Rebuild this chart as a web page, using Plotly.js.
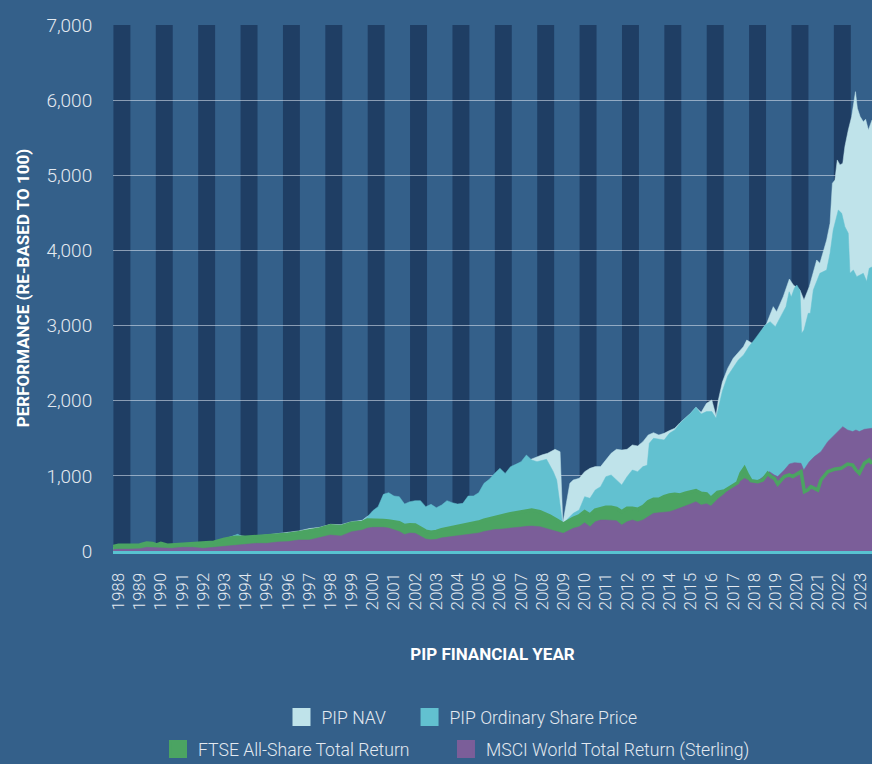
<!DOCTYPE html>
<html>
<head>
<meta charset="utf-8">
<script src="https://cdn.plot.ly/plotly-3.0.1.min.js"></script>
<style>
  html, body { margin: 0; padding: 0; background: #34608a; }
  #chart { width: 872px; height: 764px; }
</style>
</head>
<body>
<div id="chart"></div>
<script>
// ---- Tick labels (financial years) ----
const yearTicks = [1988,1989,1990,1991,1992,1993,1994,1995,1996,1997,1998,1999,2000,2001,2002,2003,2004,2005,2006,2007,2008,2009,2010,2011,2012,2013,2014,2015,2016,2017,2018,2019,2020,2021,2022,2023];
const yearLabels = yearTicks.map(String);
const valueTicks = [0,1000,2000,3000,4000,5000,6000,7000];

// ---- PIP NAV ----
const navYears = [1987.75,1988.5,1989.5,1990.5,1991.5,1992.5,1993.0,1993.5,1993.65,1994.0,1994.5,1995.0,1995.5,1996.0,1996.5,1997.0,1997.5,1998.0,1998.5,1999.0,1999.5,1999.75,2000.0,2000.5,2001.0,2001.5,2002.0,2002.5,2003.0,2003.5,2004.0,2004.5,2005.0,2005.5,2006.0,2006.5,2007.0,2007.5,2007.75,2008.0,2008.25,2008.6,2008.84,2008.97,2009.3,2009.46,2009.74,2010.0,2010.25,2010.5,2010.75,2011.0,2011.25,2011.5,2011.75,2012.0,2012.25,2012.5,2012.75,2013.0,2013.25,2013.5,2013.75,2014.0,2014.25,2014.5,2014.75,2015.0,2015.25,2015.5,2015.75,2016.0,2016.2,2016.3,2016.5,2016.75,2017.01,2017.25,2017.49,2017.65,2017.96,2018.27,2018.59,2018.9,2019.06,2019.37,2019.66,2019.85,2020.16,2020.35,2020.6,2020.95,2021.1,2021.42,2021.58,2021.69,2021.81,2021.92,2022.05,2022.18,2022.28,2022.44,2022.6,2022.78,2022.87,2023.0,2023.15,2023.26,2023.39,2023.56];
const navValues = [50,55,70,60,75,95,150,205,210,191,195,213,227,244,267,298,315,355,350,390,408,461,480,540,570,540,540,500,480,540,580,640,720,860,980,1060,1150,1224,1255,1280,1300,1353,1322,370,901,945,967,1056,1100,1123,1123,1211,1300,1353,1344,1353,1411,1398,1455,1544,1575,1544,1566,1602,1633,1708,1766,1832,1912,1845,1965,2010,1800,2000,2250,2430,2564,2640,2719,2808,2755,2897,3030,3252,3185,3385,3620,3540,3474,3340,3518,3873,3828,4139,4361,4893,4938,5204,5138,5160,5382,5603,5781,6113,5892,5781,5714,5745,5603,5737];

// ---- PIP Ordinary Share Price ----
const shareYears = [1987.75,1988.5,1989.5,1990.5,1991.5,1992.5,1993.0,1993.5,1993.62,1993.8,1994.0,1994.5,1995.0,1995.5,1996.0,1996.5,1997.0,1997.5,1998.0,1998.5,1999.0,1999.5,1999.75,2000.0,2000.25,2000.5,2000.75,2001.0,2001.25,2001.5,2001.75,2002.0,2002.25,2002.5,2002.75,2003.0,2003.25,2003.5,2003.75,2004.0,2004.25,2004.5,2004.75,2005.0,2005.25,2005.5,2005.75,2006.0,2006.25,2006.5,2006.75,2007.0,2007.25,2007.5,2007.75,2008.0,2008.2,2008.52,2008.68,2008.96,2009.14,2009.46,2009.74,2010.0,2010.25,2010.5,2010.75,2011.0,2011.25,2011.5,2011.75,2012.0,2012.25,2012.5,2012.75,2012.95,2013.05,2013.25,2013.5,2013.75,2014.0,2014.25,2014.5,2014.75,2015.0,2015.25,2015.5,2015.75,2016.0,2016.2,2016.35,2016.5,2016.75,2017.0,2017.25,2017.5,2017.75,2018.0,2018.25,2018.5,2018.75,2019.0,2019.25,2019.5,2019.65,2019.75,2019.9,2020.01,2020.16,2020.24,2020.35,2020.55,2020.65,2020.79,2021.1,2021.42,2021.58,2021.73,2021.97,2022.13,2022.28,2022.44,2022.52,2022.68,2022.84,2023.15,2023.31,2023.43,2023.56];
const shareValues = [45,50,65,55,70,90,160,205,222,195,191,200,213,227,235,253,280,302,346,324,381,399,457,536,590,754,776,732,723,625,656,670,670,590,621,576,612,670,643,625,634,732,732,776,900,954,1033,1100,1033,1122,1153,1189,1277,1211,1189,1205,1220,1056,945,360,413,501,546,723,701,812,856,989,1012,945,879,989,1078,1056,1123,1140,1433,1500,1486,1477,1566,1611,1700,1766,1832,1912,1824,1855,1855,1766,1950,2130,2330,2432,2542,2609,2720,2809,2900,3000,3052,2985,3119,3252,3450,3380,3500,3540,3470,2897,2940,3163,3163,3474,3695,3740,3962,4272,4538,4494,4316,4228,3695,3740,3651,3695,3585,3762,3780];

// ---- FTSE All-Share Total Return ----
const ftseYears = [1987.75,1988.0,1988.5,1989.0,1989.33,1989.6,1989.8,1990.0,1990.3,1990.6,1991.0,1991.5,1992.0,1992.5,1993.0,1993.5,1994.0,1994.5,1995.0,1995.5,1996.0,1996.5,1997.0,1997.5,1998.0,1998.5,1999.0,1999.5,1999.75,2000.0,2000.25,2000.5,2000.75,2001.0,2001.25,2001.5,2001.75,2002.0,2002.25,2002.5,2002.75,2003.0,2003.25,2003.5,2003.75,2004.0,2004.25,2004.5,2004.75,2005.0,2005.25,2005.5,2005.75,2006.0,2006.25,2006.5,2006.75,2007.0,2007.25,2007.5,2007.89,2008.36,2008.68,2008.99,2009.46,2009.74,2010.0,2010.25,2010.5,2010.75,2011.0,2011.25,2011.5,2011.75,2012.0,2012.25,2012.5,2012.75,2013.0,2013.25,2013.5,2013.75,2014.0,2014.25,2014.5,2014.75,2015.0,2015.25,2015.5,2015.75,2015.96,2016.27,2016.59,2016.9,2017.22,2017.38,2017.54,2017.69,2017.85,2018.17,2018.4,2018.64,2018.8,2018.95,2019.11,2019.42,2019.66,2019.82,2020.21,2020.37,2020.52,2020.68,2021.0,2021.15,2021.47,2021.78,2022.1,2022.41,2022.65,2022.8,2022.96,2023.2,2023.43,2023.56];
const ftseValues = [60,75,76,80,107,100,80,102,76,80,93,102,98,116,156,182,182,191,200,218,222,244,267,293,337,324,368,381,412,412,410,405,400,390,377,340,350,345,300,265,250,260,285,300,310,330,340,355,365,385,410,430,445,470,480,495,510,520,540,545,524,466,413,359,435,466,524,479,546,568,581,581,568,524,568,568,555,590,657,688,688,723,745,754,745,768,790,803,768,760,700,780,800,856,910,1034,1100,1012,936,923,945,1034,990,967,892,990,1012,990,1056,790,812,856,812,945,1056,1087,1100,1158,1145,1078,1034,1167,1211,1160];

// ---- MSCI World Total Return (Sterling) ----
const msciYears = [1987.75,1988.0,1988.5,1989.0,1989.33,1989.6,1990.0,1990.5,1991.0,1991.5,1992.0,1992.5,1993.0,1993.5,1994.0,1994.5,1995.0,1995.5,1996.0,1996.5,1997.0,1997.5,1998.0,1998.5,1999.0,1999.5,1999.75,2000.0,2000.25,2000.5,2000.75,2001.0,2001.25,2001.5,2001.75,2002.0,2002.25,2002.5,2002.75,2003.0,2003.25,2003.5,2003.75,2004.0,2004.25,2004.5,2004.75,2005.0,2005.25,2005.5,2005.75,2006.0,2006.25,2006.5,2006.75,2007.0,2007.25,2007.5,2007.89,2008.36,2008.68,2008.99,2009.46,2009.74,2010.0,2010.25,2010.5,2010.75,2011.0,2011.25,2011.5,2011.75,2012.0,2012.25,2012.5,2012.75,2013.0,2013.25,2013.5,2013.75,2014.0,2014.25,2014.5,2014.75,2015.0,2015.25,2015.5,2015.75,2015.96,2016.27,2016.59,2016.9,2017.22,2017.54,2017.85,2018.17,2018.48,2018.72,2018.95,2019.11,2019.42,2019.66,2019.9,2020.21,2020.34,2020.45,2020.6,2020.84,2021.15,2021.47,2021.78,2022.1,2022.18,2022.41,2022.65,2022.8,2022.96,2023.2,2023.56];
const msciValues = [20,25,25,31,49,45,40,36,49,49,36,49,67,76,93,102,102,120,125,147,147,182,213,200,257,279,305,315,318,315,305,285,260,220,240,235,200,160,150,155,175,185,195,205,210,215,225,240,260,275,285,290,295,300,310,320,328,332,324,288,257,235,302,324,377,324,390,413,413,404,404,346,390,413,390,413,457,501,510,515,524,546,568,599,626,657,612,630,600,690,760,856,901,967,923,935,1000,1056,1012,990,1078,1158,1176,1167,1078,1123,1189,1256,1322,1455,1544,1633,1655,1611,1589,1611,1589,1620,1633];

// ---- Styling ----
const C = {
  bg: '#34608a',
  stripe: '#1f3e64',
  nav: '#bfe3ea',
  share: '#62c1d0',
  ftse: '#4ba462',
  msci: '#7b5e99',
  text: '#e3e9f0',
  grid: 'rgba(225,234,244,0.55)',
  axis: '#58c3d1'
};
const FONT = 'Roboto, "Open Sans", sans-serif';

function area(x, y, color, name) {
  return { type: 'scatter', mode: 'lines', x: x, y: y, name: name, fill: 'tozeroy',
           fillcolor: color, line: { color: color, width: 0.5 }, showlegend: false, hoverinfo: 'skip' };
}
function key(color, name, legendId) {
  return { type: 'scatter', mode: 'markers', x: [null], y: [null], name: name, legend: legendId,
           marker: { symbol: 'square', size: 16, color: color, line: { color: color, width: 2 } },
           showlegend: true, hoverinfo: 'skip' };
}

const traces = [
  area(navYears, navValues, C.nav, 'PIP NAV'),
  area(shareYears, shareValues, C.share, 'PIP Ordinary Share Price'),
  area(ftseYears, ftseValues, C.ftse, 'FTSE All-Share Total Return'),
  area(msciYears, msciValues, C.msci, 'MSCI World Total Return (Sterling)'),
  { type: 'scatter', mode: 'lines', x: ftseYears, y: ftseValues, line: { color: C.ftse, width: 3.5 },
    showlegend: false, hoverinfo: 'skip' },
  key(C.nav, 'PIP NAV', 'legend'),
  key(C.share, 'PIP Ordinary Share Price', 'legend2'),
  key(C.ftse, 'FTSE All-Share Total Return', 'legend3'),
  key(C.msci, 'MSCI World Total Return (Sterling)', 'legend4')
];

// alternating dark bands for every second financial year
const shapes = yearTicks.filter(y => y % 2 === 0).map(y => ({
  type: 'rect', xref: 'x', yref: 'paper', x0: y - 0.24, x1: y + 0.56, y0: 0, y1: 1,
  fillcolor: C.stripe, line: { width: 0 }, layer: 'below'
}));

const legendFont = { family: FONT, size: 17.6, color: C.text, weight: 300 };
function leg(x, y) {
  return { x: x, y: y, xanchor: 'left', yanchor: 'middle', orientation: 'h',
           bgcolor: 'rgba(0,0,0,0)', borderwidth: 0, font: legendFont, itemclick: false };
}

const layout = {
  width: 872, height: 764,
  paper_bgcolor: C.bg, plot_bgcolor: C.bg,
  margin: { l: 113, r: 0, t: 25, b: 213, autoexpand: false },
  showlegend: true,
  shapes: shapes,
  xaxis: {
    range: [1987.74, 2023.56], tickvals: yearTicks, ticktext: yearLabels, tickangle: -90,
    showgrid: false, zeroline: false, showline: true, linecolor: C.axis, linewidth: 3,
    ticks: 'outside', ticklen: 12, tickcolor: 'rgba(0,0,0,0)', automargin: false,
    tickfont: { family: FONT, size: 17, color: C.text, weight: 300 },
    title: { text: 'PIP FINANCIAL YEAR', standoff: 39,
             font: { family: FONT, size: 17, color: '#ffffff', weight: 'bold' } }
  },
  yaxis: {
    range: [0, 7000], tickvals: valueTicks, tickformat: ',d', automargin: false,
    showgrid: true, gridcolor: C.grid, gridwidth: 1, zeroline: false, showline: false,
    ticks: 'outside', ticklen: 16, tickcolor: 'rgba(0,0,0,0)',
    tickfont: { family: FONT, size: 19, color: C.text, weight: 300 },
    title: { text: 'PERFORMANCE (RE-BASED TO 100)', standoff: 12,
             font: { family: FONT, size: 17, color: '#ffffff', weight: 'bold' } }
  },
  legend: leg(0.222, -0.3156),
  legend2: leg(0.3907, -0.3156),
  legend3: leg(0.0593, -0.3764),
  legend4: leg(0.4387, -0.3764)
};

Plotly.newPlot('chart', traces, layout, { staticPlot: true, displayModeBar: false });
</script>
</body>
</html>
